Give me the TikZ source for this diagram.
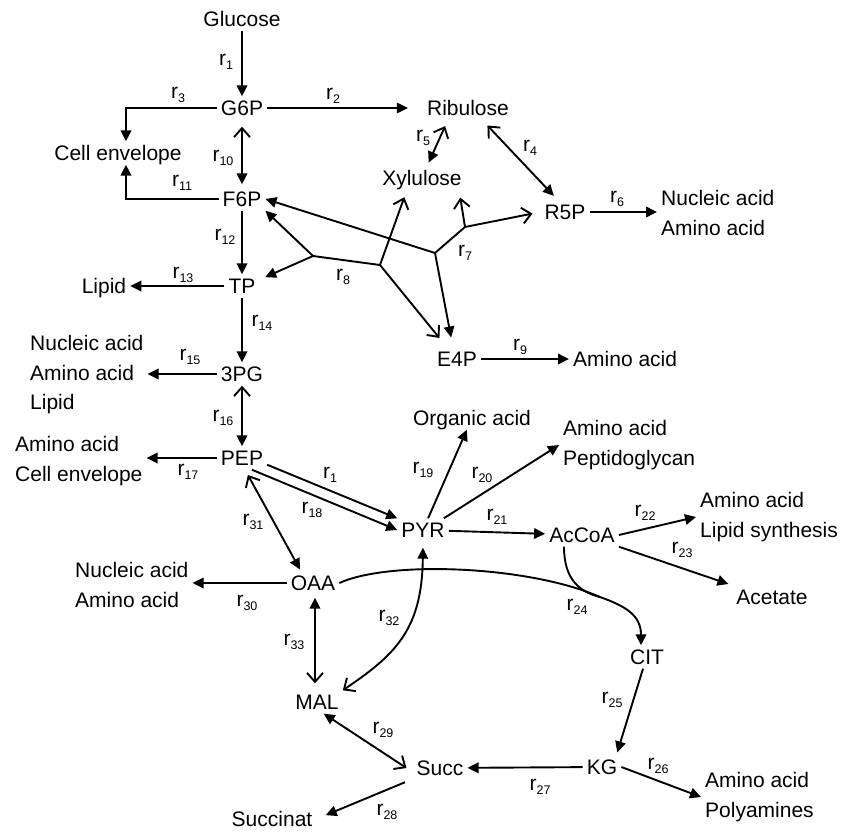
\documentclass[tikz,border=0pt]{standalone}
\usepackage{fontspec}
\setmainfont{Liberation Sans}
\usetikzlibrary{arrows.meta, calc}

\newcommand{\metfont}{\fontsize{21}{29.5}\selectfont}
\newcommand{\rx}[1]{r\raisebox{-3.5pt}{\fontsize{12.5}{13}\selectfont #1}}

\begin{document}
\begin{tikzpicture}[x=1pt, y=-1pt,
    met/.style={font=\metfont, inner sep=4pt, text height=15pt, text depth=0pt},
    prod/.style={font=\metfont, inner sep=4pt, align=left, anchor=west},
    lab/.style={font=\metfont, inner sep=0pt, text height=11pt, text depth=3.5pt},
    line/.style={line width=1.9pt},
    fw/.style={line, -{Triangle[length=11pt,width=10.5pt]}},
    rev/.style={line, {Straight Barb[length=9pt,width=16pt]}-{Triangle[length=11pt,width=10.5pt]}},
    op/.style={line, -{Straight Barb[length=9pt,width=16pt]}}
  ]
  \useasboundingbox (0,0) rectangle (841,832);

  \node[met] (glc) at (242,19) {Glucose};
  \node[met] (g6p) at (242,108) {G6P};
  \node[met] (rib) at (468,108) {Ribulose};
  \node[met] (cenv) at (118,153) {Cell envelope};
  \node[met] (xyl) at (422,178) {Xylulose};
  \node[met] (f6p) at (242,199) {F6P};
  \node[met] (r5p) at (565,212) {R5P};
  \node[prod] (out6) at (657,213) {Nucleic acid\\Amino acid};
  \node[met] (tp) at (242,286) {TP};
  \node[met] (lip) at (104,286) {Lipid};
  \node[met] (pg3) at (242,374) {3PG};
  \node[prod] (out15) at (26,375) {Nucleic acid\\Amino acid\\Lipid};
  \node[met] (e4p) at (457,359) {E4P};
  \node[met, anchor=west] (out9) at (569,359) {Amino acid};
  \node[met] (org) at (472,418) {Organic acid};
  \node[prod] (out20) at (559,445) {Amino acid\\Peptidoglycan};
  \node[met] (pep) at (242,458) {PEP};
  \node[prod] (out17) at (11,461) {Amino acid\\Cell envelope};
  \node[met] (pyr) at (423,530) {PYR};
  \node[met] (acoa) at (582,535) {AcCoA};
  \node[prod] (out22) at (696,517) {Amino acid\\Lipid synthesis};
  \node[met] (ace) at (772,597) {Acetate};
  \node[prod] (out30) at (71,585) {Nucleic acid\\Amino acid};
  \node[met] (oaa) at (313,583) {OAA};
  \node[met] (cit) at (647,657) {CIT};
  \node[met] (mal) at (317,702) {MAL};
  \node[met] (succ) at (440,768) {Succ};
  \node[met] (kg) at (602,767) {KG};
  \node[prod] (out26) at (701,797) {Amino acid\\Polyamines};
  \node[met, inner ysep=2pt] (sucn) at (272,819) {Succinat};

  \node[lab] (l1) at (226,62) {\rx{1}};
  \node[lab] (l2) at (333,96) {\rx{2}};
  \node[lab] (l3) at (178,95) {\rx{3}};
  \node[lab] (l4) at (530,148) {\rx{4}};
  \node[lab] (l5) at (423,138) {\rx{5}};
  \node[lab] (l6) at (617,199) {\rx{6}};
  \node[lab] (l7) at (465,253) {\rx{7}};
  \node[lab] (l8) at (343,277) {\rx{8}};
  \node[lab] (l9) at (520,347) {\rx{9}};
  \node[lab] (l10) at (223,158) {\rx{10}};
  \node[lab] (l11) at (182,183) {\rx{11}};
  \node[lab] (l12) at (225,237) {\rx{12}};
  \node[lab] (l13) at (183,275) {\rx{13}};
  \node[lab] (l14) at (262,323) {\rx{14}};
  \node[lab] (l15) at (190,357) {\rx{15}};
  \node[lab] (l16) at (223,418) {\rx{16}};
  \node[lab] (l17) at (188,472) {\rx{17}};
  \node[lab] (l1b) at (330,475) {\rx{1}};
  \node[lab] (l18) at (312,510) {\rx{18}};
  \node[lab] (l19) at (423,470) {\rx{19}};
  \node[lab] (l20) at (482,475) {\rx{20}};
  \node[lab] (l21) at (497,517) {\rx{21}};
  \node[lab] (l22) at (645,513) {\rx{22}};
  \node[lab] (l23) at (682,550) {\rx{23}};
  \node[lab] (l24) at (577,607) {\rx{24}};
  \node[lab] (l25) at (612,700) {\rx{25}};
  \node[lab] (l26) at (658,766) {\rx{26}};
  \node[lab] (l27) at (540,787) {\rx{27}};
  \node[lab] (l28) at (387,812) {\rx{28}};
  \node[lab] (l29) at (383,730) {\rx{29}};
  \node[lab] (l30) at (247,603) {\rx{30}};
  \node[lab] (l31) at (253,522) {\rx{31}};
  \node[lab] (l32) at (389,618) {\rx{32}};
  \node[lab] (l33) at (294,642) {\rx{33}};

  \coordinate (r8a) at (313,256);
  \coordinate (r8b) at (380,265);
  \coordinate (r7c) at (435,253);
  \coordinate (r7d) at (465,227);
  \coordinate (j24) at (600,597);

  \draw[fw] (glc) -- (g6p);
  \draw[fw, shorten >=15pt] (g6p) -- (rib);
  \draw[fw] (g6p.west) -| ([xshift=8pt]cenv.north);
  \draw[rev, shorten <=8pt, shorten >=6pt] (rib.-40) -- ([xshift=-7pt]r5p.north);
  \draw[rev, shorten <=7pt, shorten >=4pt] ([xshift=-20pt]rib.south) -- ([xshift=5pt]xyl.north);
  \draw[fw] (r5p.east) -- (r5p.east -| out6.west);
  \draw[rev, shorten <=7pt, shorten >=3pt] (g6p) -- (f6p);
  \draw[fw] (f6p.west) -| ([xshift=8pt]cenv.south);
  \draw[fw] (f6p) -- (tp);
  \draw[fw] (tp) -- (lip);
  \draw[fw] (tp) -- (pg3);
  \draw[fw] (pg3.west) -- (pg3.west -| out15.east);
  \draw[rev] (pg3) -- (pep);
  \draw[fw] (pep.west) -- (pep.west -| out17.east);

  \draw[line] (r8a) -- (r8b);
  \draw[fw] (r8a) -- (f6p.south east);
  \draw[fw, shorten >=6pt] (r8a) -- (tp.20);
  \draw[op, shorten >=8pt] (r8b) -- ([xshift=-15pt]xyl.south);
  \draw[op, shorten >=12pt] (r8b) -- ([xshift=-10pt]e4p.north);
  \draw[line] (r7c) -- (r7d);
  \draw[fw] (r7c) -- (f6p.east);
  \draw[fw, shorten >=10pt] (r7c) -- ([xshift=-4pt]e4p.north);
  \draw[op, shorten >=8pt] (r7d) -- ([xshift=37pt]xyl.south);
  \draw[op, shorten >=8pt] (r7d) -- (r5p.west);
  \draw[fw] (e4p.east) -- (out9.west);

  \draw[fw] (pep.-15) -- (pyr.north west);
  \draw[fw] (pep.-50) -- (pyr.west);
  \draw[rev, shorten <=6pt, shorten >=2pt] ([xshift=3pt]pep.south) -- ([xshift=-12pt]oaa.north);
  \draw[fw] (pyr) -- (org);
  \draw[fw] ([xshift=-5pt]pyr.north east) -- (out20.west);
  \draw[fw] (pyr) -- (acoa);
  \draw[fw] (acoa.east) -- (out22.west);
  \draw[fw, shorten >=4pt] (acoa.south east) -- (ace.north west);

  \draw[fw] (oaa.west) -- (oaa.west -| out30.east);
  \draw[line] (oaa.east) .. controls (390,560) and (530,566) .. (j24);
  \draw[line] ([xshift=-18pt]acoa.south) .. controls (564,580) and (580,592) .. (j24);
  \draw[fw] (j24) .. controls (625,606) and (641,615) .. ([xshift=-6pt]cit.north);
  \draw[rev, shorten >=6pt] (mal.north east) .. controls (395,655) and (422,630) .. (pyr.south);
  \draw[rev, shorten <=7pt, shorten >=3pt] ([xshift=-2pt]mal.north) -- ([xshift=2pt]oaa.south);
  \draw[fw, shorten >=3pt] ([xshift=-4pt]cit.south) -- ([xshift=-5pt]kg.north east);
  \draw[fw] (kg.east) -- (out26.west);
  \draw[fw] (kg) -- (succ);
  \draw[rev] ([xshift=-6pt]succ.west) -- (mal.-60);
  \draw[fw, shorten <=8pt, shorten >=10pt] (succ.202) -- (sucn.east);
\end{tikzpicture}
\end{document}
